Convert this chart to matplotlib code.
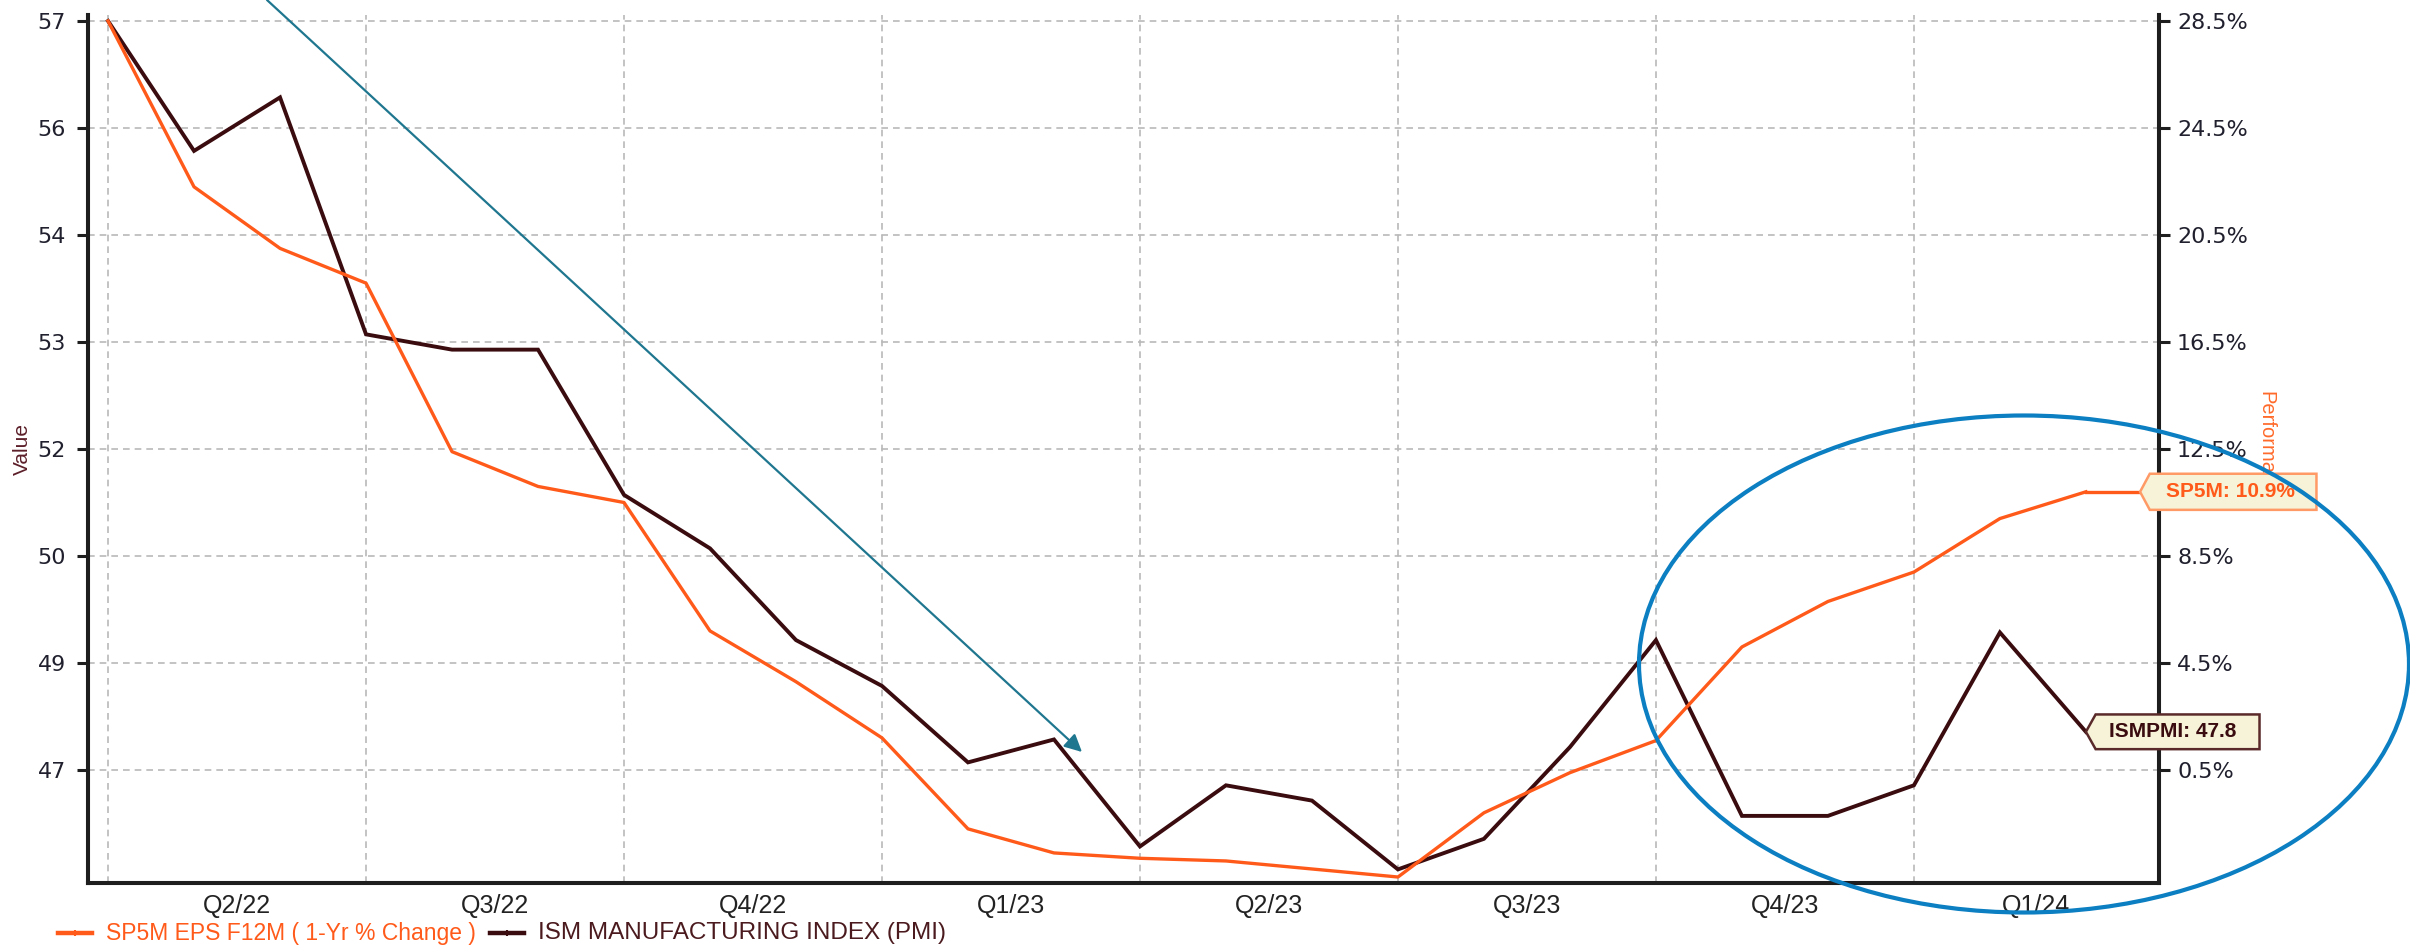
import matplotlib
matplotlib.use("Agg")
import matplotlib.pyplot as plt
import matplotlib.transforms as mtransforms
from matplotlib.lines import Line2D
from matplotlib.patches import Ellipse, Polygon, FancyArrowPatch
import numpy as np

# Monthly readings, Mar 2022 .. Feb 2024
ISM_PMI = [57.1, 55.4, 56.1, 53.0, 52.8, 52.8, 50.9, 50.2, 49.0, 48.4, 47.4, 47.7,
           46.3, 47.1, 46.9, 46.0, 46.4, 47.6, 49.0, 46.7, 46.7, 47.1, 49.1, 47.8]
EPS_CHG = [28.5, 22.3, 20.0, 18.7, 12.4, 11.1, 10.5, 5.7, 3.8, 1.7, -1.7, -2.6,
           -2.8, -2.9, -3.2, -3.5, -1.1, 0.4, 1.6, 5.1, 6.8, 7.9, 9.9, 10.9]

QUARTERS = ["Q2/22", "Q3/22", "Q4/22", "Q1/23", "Q2/23", "Q3/23", "Q4/23", "Q1/24"]
LEFT_TICKS = [57.1, 55.7, 54.3, 52.9, 51.5, 50.1, 48.7, 47.3]
LEFT_LABELS = ["57", "56", "54", "53", "52", "50", "49", "47"]
RIGHT_TICKS = [28.5, 24.5, 20.5, 16.5, 12.5, 8.5, 4.5, 0.5]
SERIES_NAMES = ["SP5M EPS F12M ( 1-Yr % Change )", "ISM MANUFACTURING INDEX (PMI)"]

ORANGE = "#ff5a1a"
BROWN = "#3a0c0f"
TICK_COLOR = "#20202e"

plt.rcParams.update({
    "font.family": ["Liberation Sans", "DejaVu Sans"],
    "axes.linewidth": 2.9,
    "axes.edgecolor": "#1e1e1e",
})

W, H = 2410, 946
fig = plt.figure(figsize=(W / 100, H / 100), dpi=100)
L, R, T, B = 88, 2159, 15, 883
ax = fig.add_axes([L / W, 1 - B / H, (R - L) / W, (B - T) / H])
ax2 = ax.twinx()

months = np.arange(len(ISM_PMI))
ax.plot(months, ISM_PMI, color=BROWN, lw=2.8, solid_joinstyle="miter", zorder=3)
ax2.plot(months, EPS_CHG, color=ORANGE, lw=2.4, zorder=3)

# axis ranges chosen so both tick sets share the same grid rows
ax.set_xlim(-0.233, 23.85)
ax.set_ylim(45.822, 57.178)
ax2.set_ylim(-3.724, 28.724)

ax.set_yticks(LEFT_TICKS)
ax.set_yticklabels(LEFT_LABELS)
ax2.set_yticks(RIGHT_TICKS)
ax2.set_yticklabels([f"{v:.1f}%" for v in RIGHT_TICKS])
for a in (ax, ax2):
    a.tick_params(axis="y", length=8, width=2.2, color="#1e1e1e",
                  labelsize=16, labelcolor=TICK_COLOR)
    for lab in a.get_yticklabels():
        lab.set_fontfamily("DejaVu Sans")
ax.tick_params(axis="y", pad=8)
ax2.tick_params(axis="y", pad=5)

# quarter boundaries carry the vertical grid, labels sit between them
bounds = list(np.arange(0, len(ISM_PMI), 3)) + [ax.get_xlim()[1]]
mids = [(a + b) / 2 for a, b in zip(bounds[:-1], bounds[1:])]
ax.set_xticks(bounds, minor=True)
ax.set_xticks(mids)
ax.set_xticklabels(QUARTERS)
ax.tick_params(axis="x", which="both", length=0, pad=8, labelsize=18,
               labelcolor="#222222")
ax.grid(which="minor", axis="x", color="#b9b9b9", lw=1.2, ls=(0, (4, 3)))
ax.grid(which="major", axis="y", color="#b9b9b9", lw=1.2, ls=(0, (4, 3)))
ax.set_axisbelow(True)

for a in (ax, ax2):
    a.spines["top"].set_visible(False)

ax.set_ylabel("Value", fontsize=15, color="#5c1f2a", va="center")
ax.yaxis.set_label_coords(-0.0319, 0.5)
ax2.set_ylabel("Performance", fontsize=14.5, color="#ff6a2a", rotation=270,
               va="center")
ax2.yaxis.set_label_coords(1.0517, 0.5)


def value_tag(axis, x, y, text, color, edge, tip_dx, width, height, text_dx):
    """Last-value flag: a box with a chevron pointing back at (x, y)."""
    trans = (mtransforms.Affine2D().scale(fig.dpi / 72)
             + mtransforms.ScaledTranslation(x, y, axis.transData))
    notch = 7
    h = height / 2
    verts = [(tip_dx, 0), (tip_dx + notch, h), (tip_dx + width, h),
             (tip_dx + width, -h), (tip_dx + notch, -h)]
    if tip_dx:
        axis.add_line(Line2D([0, tip_dx], [0, 0], color=color, lw=2.4,
                             transform=trans, clip_on=False, zorder=7))
    axis.add_patch(Polygon(verts, closed=True, transform=trans, fc="#f6f3d8",
                           ec=edge, lw=1.8, clip_on=False, zorder=8))
    axis.annotate(text, (x, y), xytext=(tip_dx + text_dx, 0),
                  textcoords="offset points", ha="left", va="center",
                  fontsize=15, fontweight="bold", color=color,
                  annotation_clip=False, zorder=9)


value_tag(ax2, months[-1], EPS_CHG[-1], f"SP5M: {EPS_CHG[-1]:.1f}%", ORANGE,
          "#ff9a66", tip_dx=39, width=127, height=26, text_dx=18.5)
value_tag(ax2, months[-1], ax2.transData.inverted().transform(
              ax.transData.transform((months[-1], ISM_PMI[-1])))[1],
          f"ISMPMI: {ISM_PMI[-1]:.1f}", BROWN, "#5a2a2a",
          tip_dx=0, width=125, height=25, text_dx=16.5)

# highlight ring and trend arrow
fig.add_artist(Ellipse((2024 / W, 1 - 664 / H), 770 / W, 497 / H,
                       transform=fig.transFigure, fill=False,
                       ec="#0b7fc1", lw=3.0, zorder=10))
fig.add_artist(FancyArrowPatch(
    (267 / W, 1.0), (1082 / W, 1 - 752 / H), transform=fig.transFigure,
    arrowstyle="-|>", mutation_scale=26, lw=1.6, color="#1f768f",
    shrinkA=0, shrinkB=0, zorder=10))

# legend row under the axis, laid out in pixels
renderer = fig.canvas.get_renderer()
legend_y = 1 - 933 / H
x0 = 58
for name, color, text_color, size in zip(SERIES_NAMES, [ORANGE, BROWN],
                                         [ORANGE, "#4a1a1e"], [16.5, 17.5]):
    fig.add_artist(Line2D([x0 / W, (x0 + 34) / W], [legend_y, legend_y],
                          transform=fig.transFigure, color=color, lw=3.2))
    fig.add_artist(Line2D([(x0 + 17) / W], [legend_y], transform=fig.transFigure,
                          color=color, marker="|", ms=5, mew=1.5))
    txt = fig.text((x0 + 48) / W, legend_y, name, color=text_color,
                   fontsize=size, ha="left", va="center")
    x0 = txt.get_window_extent(renderer).x1 + 14

fig.savefig("out.png", dpi=100)
